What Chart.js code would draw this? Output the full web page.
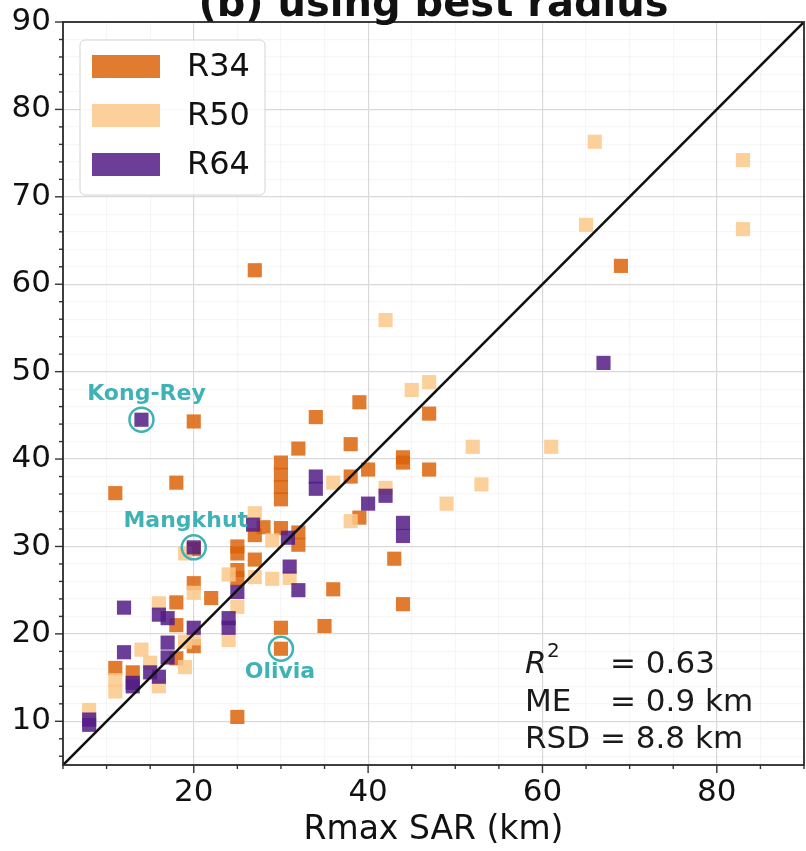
<!DOCTYPE html>
<html>
<head>
<meta charset="utf-8">
<script src="https://cdn.jsdelivr.net/npm/chart.js@4.4.0/dist/chart.umd.min.js"></script>
<style>
html,body{margin:0;padding:0;background:#fff;overflow:hidden;}
#wrap{width:806px;height:851px;position:relative;overflow:hidden;}
</style>
</head>
<body>
<div id="wrap"><canvas id="c" width="814" height="851" style="width:814px;height:851px;display:block;"></canvas></div>
<script>
// ---------------- data ----------------
const seriesNames = ['R34', 'R50', 'R64'];

const r34X = [27, 69, 20, 34, 39, 47, 32, 38, 44, 44, 47, 30, 30, 30, 30, 11, 18, 38, 40, 39,
              43, 36, 44, 35, 30, 30, 25, 30, 28, 27, 32, 32, 25, 25, 27, 20, 20, 25, 25, 22,
              18, 18, 18, 20, 11, 13];
const r34Y = [61.6, 62.1, 44.3, 44.8, 46.5, 45.2, 41.2, 41.7, 40.2, 39.6, 38.8, 39.6, 38.2, 36.8, 35.4, 36.1, 37.3, 38.0, 38.8, 33.3,
              28.6, 25.1, 23.4, 20.9, 20.7, 18.3, 10.5, 32.1, 32.2, 31.3, 31.6, 30.2, 30.0, 29.2, 28.5, 25.8, 29.7, 27.3, 26.4, 24.1,
              23.6, 21.0, 17.2, 18.6, 16.1, 15.6];

const r50X = [66, 83, 65, 83, 42, 47, 45, 52, 61, 53, 49, 42, 36, 38, 27, 29, 27, 29, 31, 24,
              20, 25, 24, 20, 19, 19, 16, 14, 15, 16, 11, 11, 8, 19];
const r50Y = [76.3, 74.2, 66.8, 66.3, 55.9, 48.8, 47.9, 41.4, 41.4, 37.1, 34.9, 36.7, 37.3, 32.9, 33.8, 30.7, 26.5, 26.3, 26.4, 26.8,
              24.7, 23.1, 19.3, 19.5, 19.1, 16.2, 23.5, 18.2, 16.7, 14.0, 14.7, 13.4, 11.3, 29.2];

const r64X = [67, 14, 34, 34, 42, 40, 44, 44, 20, 26.8, 30.8, 31, 32, 25, 24, 24, 20, 12, 16, 17,
              17, 17, 12, 15, 16, 13, 13, 8, 8];
const r64Y = [51.0, 44.5, 38.0, 36.6, 35.8, 34.9, 32.7, 31.2, 29.9, 32.5, 31.0, 27.7, 25.0, 24.8, 21.8, 20.7, 20.7, 23.0, 22.2, 21.8,
              19.0, 17.3, 17.9, 15.6, 15.1, 14.4, 14.0, 10.2, 9.6];

const xTickLabels = [20, 40, 60, 80];
const yTickLabels = [10, 20, 30, 40, 50, 60, 70, 80, 90];

const annNames = ['Kong-Rey', 'Mangkhut', 'Olivia'];
const annX = [14, 20, 30];
const annY = [44.5, 29.9, 18.3];

const statsLabels = ['ME', 'RSD'];
const statsR2 = '0.63';
const statsME = '0.9 km';
const statsRSD = '8.8 km';

const titleText = '(b) using best radius';
const xAxisTitle = 'Rmax SAR (km)';

// ---------------- styles ----------------
const FONT = '"DejaVu Sans", "Liberation Sans", sans-serif';
const COLORS = ['rgba(220,100,10,0.85)', 'rgba(252,200,138,0.85)', 'rgba(84,28,134,0.85)'];
const TEAL = '#3fb2b6';

const toPts = (xs, ys) => xs.map((v, i) => ({x: v, y: ys[i]}));

const deco = {
  id: 'deco',
  afterDatasetsDraw(chart) {
    const {ctx, chartArea: a, scales: {x, y}} = chart;
    ctx.save();

    // annotation circles & labels
    ctx.strokeStyle = TEAL;
    ctx.lineWidth = 2.5;
    const offs = [[5, -25], [-8, -26], [-1, 24]];
    annNames.forEach((n, i) => {
      const px = x.getPixelForValue(annX[i]);
      const py = y.getPixelForValue(annY[i]);
      ctx.beginPath();
      ctx.arc(px, py, 12, 0, Math.PI * 2);
      ctx.stroke();
      ctx.fillStyle = TEAL;
      ctx.font = 'bold 22px ' + FONT;
      ctx.textAlign = 'center';
      ctx.textBaseline = 'middle';
      ctx.fillText(n, px + offs[i][0], py + offs[i][1]);
    });

    // stats text
    ctx.fillStyle = '#1a1a1a';
    ctx.textAlign = 'left';
    ctx.textBaseline = 'alphabetic';
    ctx.font = 'italic 31px ' + FONT;
    ctx.fillText('R', 525, 673);
    ctx.font = '20px ' + FONT;
    ctx.fillText('2', 547, 657);
    ctx.font = '31px ' + FONT;
    ctx.fillText('= ' + statsR2, 610, 673);
    ctx.fillText(statsLabels[0], 525, 711);
    ctx.fillText('= ' + statsME, 610, 711);
    ctx.fillText(statsLabels[1] + ' = ' + statsRSD, 525, 748);

    // legend
    const lx = 80, ly = 40, lw = 185, lh = 155;
    ctx.beginPath();
    ctx.roundRect(lx, ly, lw, lh, 5);
    ctx.fillStyle = 'rgba(255,255,255,0.8)';
    ctx.fill();
    ctx.strokeStyle = '#d4d4d4';
    ctx.lineWidth = 1;
    ctx.stroke();
    const rowY = [55, 104, 153];
    seriesNames.forEach((n, i) => {
      ctx.fillStyle = COLORS[i];
      ctx.fillRect(92, rowY[i], 68, 23);
      ctx.fillStyle = '#111';
      ctx.font = '32px ' + FONT;
      ctx.textBaseline = 'middle';
      ctx.textAlign = 'left';
      ctx.fillText(n, 187, rowY[i] + 13);
    });

    // tick marks
    ctx.strokeStyle = '#333';
    ctx.lineWidth = 1.4;
    for (let v = 5; v <= 90; v += 5) {
      const px = x.getPixelForValue(v);
      const len = xTickLabels.includes(v) ? 8 : 4;
      ctx.beginPath(); ctx.moveTo(px, a.bottom); ctx.lineTo(px, a.bottom + len); ctx.stroke();
    }
    for (let v = 6; v <= 90; v += 2) {
      const py = y.getPixelForValue(v);
      const len = yTickLabels.includes(v) ? 8 : 4;
      ctx.beginPath(); ctx.moveTo(a.left, py); ctx.lineTo(a.left - len, py); ctx.stroke();
    }

    // border
    ctx.strokeStyle = '#2a2a2a';
    ctx.lineWidth = 1.8;
    ctx.strokeRect(a.left, a.top, a.right - a.left, a.bottom - a.top);

    // title
    ctx.fillStyle = '#111';
    ctx.font = 'bold 40px ' + FONT;
    ctx.textAlign = 'center';
    ctx.textBaseline = 'alphabetic';
    ctx.fillText(titleText, (a.left + a.right) / 2, 16);

    // x axis title
    ctx.font = '33px ' + FONT;
    ctx.fillText(xAxisTitle, (a.left + a.right) / 2, 839);

    ctx.restore();
  }
};

const pointCfg = (i) => ({
  type: 'scatter',
  pointStyle: 'rect',
  pointRadius: 10,
  pointHoverRadius: 10,
  borderWidth: 0,
  backgroundColor: COLORS[i],
  borderColor: COLORS[i]
});

const zeroPad = s => { s.paddingLeft = 0; s.paddingRight = 0; s.paddingTop = 0; s.paddingBottom = 0; };

new Chart(document.getElementById('c'), {
  data: {
    datasets: [
      {label: '1:1', type: 'line', data: [{x: 5, y: 5}, {x: 90, y: 90}], borderColor: '#111', borderWidth: 2.6,
       pointRadius: 0, fill: false, order: 0},
      Object.assign(pointCfg(2), {label: seriesNames[2], data: toPts(r64X, r64Y), order: 1}),
      Object.assign(pointCfg(1), {label: seriesNames[1], data: toPts(r50X, r50Y), order: 2}),
      Object.assign(pointCfg(0), {label: seriesNames[0], data: toPts(r34X, r34Y), order: 3})
    ]
  },
  options: {
    responsive: false,
    animation: false,
    events: [],
    layout: {padding: {top: 22, right: 0, left: 0, bottom: 0}},
    plugins: {legend: {display: false}, tooltip: {enabled: false}, title: {display: false}},
    scales: {
      x: {
        type: 'linear', min: 5, max: 90,
        afterBuildTicks: s => { const t = []; for (let v = 5; v <= 90; v += 5) t.push({value: v}); s.ticks = t; },
        afterFit: s => { s.height = 86; zeroPad(s); },
        ticks: {autoSkip: false, maxRotation: 0, minRotation: 0, padding: 9, color: '#111',
                font: {family: FONT, size: 31},
                callback: v => xTickLabels.includes(v) ? String(v) : ''},
        grid: {drawTicks: false,
               color: c => xTickLabels.includes(c.tick && c.tick.value) ? '#d9d9d9' : 'rgba(0,0,0,0.035)',
               lineWidth: 1.2},
        border: {display: false}
      },
      y: {
        type: 'linear', min: 5, max: 90,
        afterBuildTicks: s => { const t = []; for (let v = 6; v <= 90; v += 2) t.push({value: v}); s.ticks = t; },
        afterFit: s => { s.width = 63; zeroPad(s); },
        ticks: {autoSkip: false, padding: 12, color: '#111',
                font: {family: FONT, size: 31},
                callback: v => yTickLabels.includes(v) ? String(v) : ''},
        grid: {drawTicks: false,
               color: c => yTickLabels.includes(c.tick && c.tick.value) ? '#d9d9d9' : 'rgba(0,0,0,0.03)',
               lineWidth: 1.2},
        border: {display: false}
      }
    }
  },
  plugins: [deco]
});
</script>
</body>
</html>
